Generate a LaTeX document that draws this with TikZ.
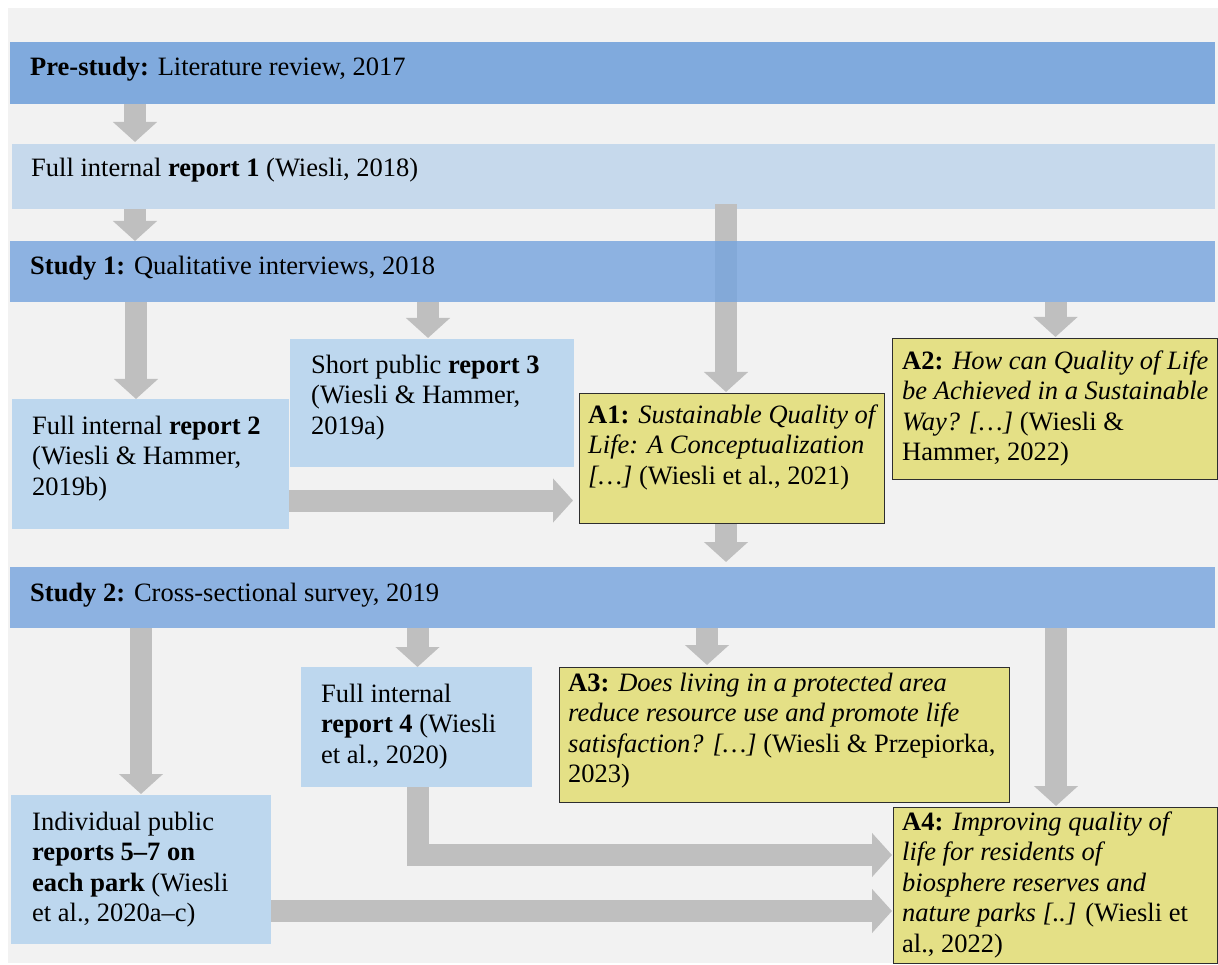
\documentclass[tikz,border=0pt]{standalone}
\usepackage{fontspec}
\setmainfont{Liberation Serif}
\usetikzlibrary{arrows.meta}
\definecolor{bggray}{HTML}{F2F2F2}
\definecolor{preblue}{HTML}{80AADD}
\definecolor{studyblue}{RGB}{119,165,222}
\definecolor{bandlight}{HTML}{C6D9EC}
\definecolor{boxblue}{HTML}{BDD7EE}
\definecolor{ybox}{HTML}{E4E086}
\definecolor{ydraw}{HTML}{2E2E2E}
\definecolor{arrowgray}{HTML}{BFBFBF}
\tikzset{
  band/.style={rectangle, draw=none, inner sep=0pt, anchor=north west},
  bluebox/.style={rectangle, draw=none, fill=boxblue, inner sep=0pt, anchor=north west},
  ylbox/.style={rectangle, draw=ydraw, line width=1.2pt, fill=ybox, inner sep=0pt, anchor=north west},
  txt/.style={anchor=north west, inner sep=0pt, align=left, text=black},
  btxt/.style={anchor=base west, inner sep=0pt, text=black},
  barrow/.style={draw=arrowgray, line width=22pt, -{Triangle[width=43pt,length=20pt]}},
}
\begin{document}
\begin{tikzpicture}[x=1pt,y=-1pt,font=\fontsize{26.5}{30.5}\selectfont]
\useasboundingbox (0,0) rectangle (1218,965);
\fill[white] (0,0) rectangle (1218,965);
\fill[bggray] (8,8) rectangle (1218,963);

% bands
\node[band, fill=preblue, minimum width=1205, minimum height=62] (pre) at (10,42) {};
\node[btxt] (pret) at (30,76) {\textbf{Pre-study:} Literature review, 2017};
\node[band, fill=bandlight, minimum width=1203, minimum height=65] (r1) at (12,144) {};
\node[btxt] (r1t) at (31,177) {Full internal \textbf{report 1} (Wiesli, 2018)};

% A1 box (needed before the long arrow)
\node[ylbox, minimum width=305, minimum height=130] (a1) at (579,393) {};
\node[txt] (a1t) at (588,401.65) {\strut\textbf{A1:} \textit{Sustainable Quality of}\\\textit{Life: A Conceptualization}\\\textit{[…]} (Wiesli et al., 2021)};

% long arrow report 1 -> A1 (passes under Study 1 band)
\draw[barrow, shorten >=1pt] ([yshift=5pt]r1.south -| 726,0) -- (a1.north -| 726,0);

% Study bands
\node[band, fill=studyblue, fill opacity=0.82, minimum width=1205, minimum height=61] (s1) at (10,241) {};
\node[btxt] (s1t) at (30,275) {\textbf{Study 1:} Qualitative interviews, 2018};
\node[band, fill=studyblue, fill opacity=0.82, minimum width=1205, minimum height=61] (s2) at (10,567) {};
\node[btxt] (s2t) at (30,601) {\textbf{Study 2:} Cross-sectional survey, 2019};

% report boxes
\node[bluebox, minimum width=277, minimum height=130] (r2) at (12,399) {};
\node[txt] (r2t) at (32,412.65) {\strut Full internal \textbf{report 2}\\(Wiesli \& Hammer,\\2019b)};
\node[bluebox, minimum width=284, minimum height=128] (r3) at (290,339) {};
\node[txt] (r3t) at (311,351.65) {\strut Short public \textbf{report 3}\\(Wiesli \& Hammer,\\2019a)};
\node[bluebox, minimum width=231, minimum height=120] (r4) at (301,667) {};
\node[txt] (r4t) at (321,680.65) {\strut Full internal\\\textbf{report 4} (Wiesli\\et al., 2020)};
\node[bluebox, minimum width=260, minimum height=149] (r57) at (11,795) {};
\node[txt] (r57t) at (32,808.65) {\strut Individual public\\\textbf{reports 5–7 on}\\\textbf{each park} (Wiesli\\et al., 2020a–c)};

% A boxes
\node[ylbox, minimum width=325, minimum height=141] (a2) at (892,338) {};
\node[txt] (a2t) at (902,347.65) {\strut\textbf{A2:} \textit{How can Quality of Life}\\\textit{be Achieved in a Sustainable}\\\textit{Way? […]} (Wiesli \&\\Hammer, 2022)};
\node[ylbox, minimum width=450, minimum height=135] (a3) at (559,667) {};
\node[txt] (a3t) at (568,669.65) {\strut\textbf{A3:} \textit{Does living in a protected area}\\\textit{reduce resource use and promote life}\\\textit{satisfaction? […]} (Wiesli \& Przepiorka,\\2023)};
\node[ylbox, minimum width=324, minimum height=156] (a4) at (893,807) {};
\node[txt] (a4t) at (902,808.65) {\strut\textbf{A4:} \textit{Improving quality of}\\\textit{life for residents of}\\\textit{biosphere reserves and}\\\textit{nature parks [..]} (Wiesli et\\al., 2022)};

% arrows
\draw[barrow, shorten >=2pt] (pre.south -| 135,0) -- (r1.north -| 135,0);
\draw[barrow] (r1.south -| 135,0) -- (s1.north -| 135,0);
\draw[barrow] (s1.south -| 136,0) -- (r2.north -| 136,0);
\draw[barrow, shorten >=1pt] (s1.south -| 428,0) -- (r3.north -| 428,0);
\draw[barrow, shorten >=1pt] (s1.south -| 1055.5,0) -- (a2.north -| 1055.5,0);
\draw[barrow, shorten >=6pt] (r2.east |- 0,500.5) -- (a1.west |- 0,500.5);
\draw[barrow, shorten >=5pt] (a1.south -| 726,0) -- (s2.north -| 726,0);
\draw[barrow, shorten >=1pt] (s2.south -| 141,0) -- (r57.north -| 141,0);
\draw[barrow] (s2.south -| 417.5,0) -- (r4.north -| 417.5,0);
\draw[barrow, shorten >=2pt] (s2.south -| 707,0) -- (a3.north -| 707,0);
\draw[barrow, shorten >=1pt] (s2.south -| 1056,0) -- (a4.north -| 1056,0);
\draw[barrow, shorten >=1pt] (r4.south -| 417.5,0) |- (a4.west |- 0,855);
\draw[barrow, shorten >=1pt] (r57.east |- 0,911) -- (a4.west |- 0,911);
\end{tikzpicture}
\end{document}
